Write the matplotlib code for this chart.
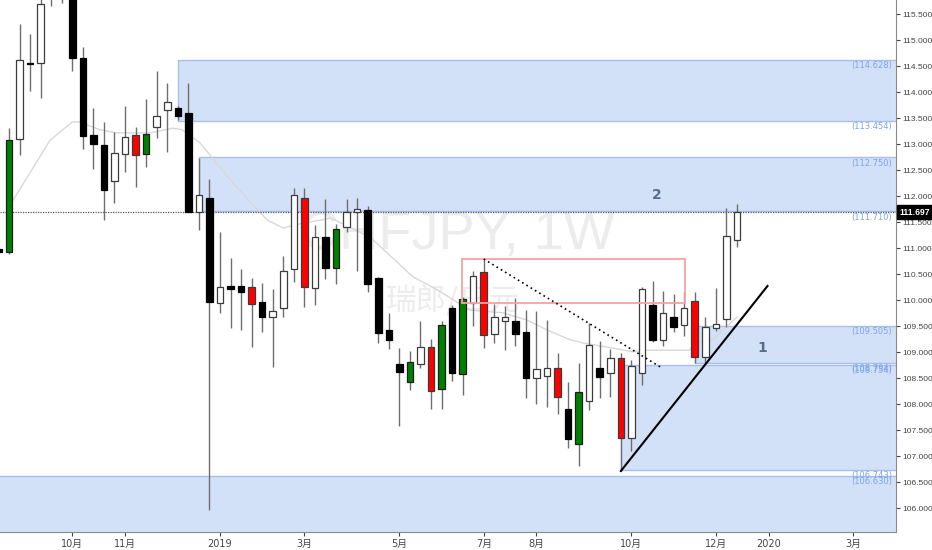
import numpy as np
import matplotlib.pyplot as plt
from matplotlib.patches import Rectangle
import matplotlib.transforms as mtransforms

plt.rcParams['font.family'] = ['DejaVu Sans', 'Noto Sans CJK SC']
axis_font = ['Liberation Sans', 'DejaVu Sans']

# weekly CHFJPY candles, index 0 = week of 2018-08-20
opens = [110.99, 110.93, 113.10, 114.56, 114.56, 115.90, 116.30, 116.10, 114.66, 113.18,
         112.99, 112.29, 112.81, 113.18, 112.81, 113.33, 113.66, 113.70, 113.60, 111.70,
         111.97, 109.95, 110.28, 110.28, 110.26, 109.97, 109.68, 109.85, 110.60, 111.97,
         110.24, 111.22, 110.62, 111.41, 111.70, 111.74, 110.43, 109.43, 108.78, 108.43,
         108.78, 109.10, 108.29, 109.85, 108.58, 109.95, 110.54, 109.35, 109.60, 109.60,
         109.39, 108.51, 108.54, 108.70, 107.91, 107.24, 108.06, 108.70, 108.60, 108.89,
         107.35, 108.60, 109.91, 109.24, 109.68, 109.53, 109.99, 108.91, 109.47, 109.64,
         111.16]
highs = [111.03, 113.31, 115.31, 115.12, 115.87, 116.60, 116.80, 116.30, 114.87, 113.70,
         113.43, 113.24, 113.74, 113.33, 113.87, 114.41, 114.18, 113.74, 114.18, 112.74,
         112.33, 111.31, 110.81, 110.60, 110.43, 110.33, 110.22, 110.85, 112.16, 112.16,
         111.45, 111.95, 111.47, 111.95, 111.97, 111.81, 110.44, 109.76, 109.08, 109.03,
         109.60, 109.26, 109.60, 109.91, 110.06, 110.56, 110.79, 109.93, 109.89, 110.04,
         109.81, 109.79, 109.62, 108.99, 108.43, 108.79, 109.56, 109.22, 109.06, 108.99,
         108.85, 110.25, 110.37, 110.18, 110.12, 110.16, 110.16, 109.68, 110.24, 111.78,
         111.85]
lows = [110.89, 110.89, 112.79, 114.03, 113.89, 115.66, 115.72, 114.41, 112.91, 112.53,
        111.54, 111.87, 112.47, 112.18, 112.56, 113.12, 112.85, 113.47, 111.69, 111.35,
        105.97, 109.76, 109.47, 109.43, 109.10, 109.39, 108.72, 109.68, 110.35, 109.87,
        109.91, 110.41, 110.31, 111.31, 110.56, 110.16, 109.18, 109.06, 107.58, 108.28,
        108.70, 107.91, 107.91, 108.45, 108.18, 109.51, 109.08, 109.18, 109.04, 109.12,
        108.12, 108.01, 107.95, 107.81, 107.16, 106.81, 107.89, 108.12, 108.14, 106.72,
        107.10, 108.37, 109.20, 109.12, 109.39, 109.31, 108.79, 108.79, 109.41, 109.49,
        111.03]
closes = [110.93, 113.08, 114.62, 114.54, 115.70, 116.30, 116.10, 114.66, 113.16, 113.01,
          112.12, 112.83, 113.14, 112.79, 113.20, 113.54, 113.81, 113.54, 111.70, 112.03,
          109.97, 110.26, 110.22, 110.16, 109.93, 109.68, 109.79, 110.56, 112.03, 110.26,
          111.22, 110.62, 111.37, 111.70, 111.76, 110.31, 109.37, 109.24, 108.62, 108.81,
          109.10, 108.26, 109.53, 108.60, 110.03, 110.47, 109.33, 109.68, 109.68, 109.35,
          108.51, 108.68, 108.70, 108.14, 107.33, 108.24, 109.14, 108.53, 108.89, 107.35,
          108.74, 110.22, 109.24, 109.76, 109.49, 109.85, 108.91, 109.49, 109.54, 111.24,
          111.70]
bar_idx = list(range(-1, 70))

red_bars = [12, 23, 28, 40, 45, 52, 58, 65]
green_bars = [0, 13, 31, 38, 41, 43, 54]

# moving average (bar index, price)
ma_idx = [0.4, 3.9, 6, 6.7, 8.6, 10.2, 13.4, 15.5, 16.4, 18.1, 21.2, 24.5, 26, 27.6, 30.5,
          34.2, 38.3, 40.6, 43.7, 46.8, 49.1, 51, 53.2, 54.4, 56.7, 59.1, 60.5, 64.5, 65.2,
          66.7, 69]
ma_val = [111.93, 113.08, 113.43, 113.43, 113.28, 113.22, 113.22, 113.31, 113.28, 113.03,
          112.26, 111.54, 111.39, 111.47, 111.58, 111.22, 110.45, 110.20, 109.81, 109.76,
          109.62, 109.43, 109.24, 109.18, 109.10, 109.01, 109.04, 109.04, 109.20, 109.24,
          109.68]

# supply / demand zones
zone_start = [16, 18, 65, 58, -3]
zone_top = [114.628, 112.750, 109.505, 108.754, 106.630]
zone_bot = [113.454, 111.710, 108.794, 106.743, 104.0]
zone_labels = [("(114.628)", "(113.454)"), ("(112.750)", "(111.710)"),
               ("(109.505)", "(108.794)"), ("(108.754)", "(106.743)"), ("(106.630)", None)]

last_price = 111.697

month_pos = [6, 11, 20, 28, 37, 45, 50, 59, 67, 72, 80]
month_lbl = ['10月', '11月', '2019', '3月', '5月', '7月', '8月', '10月', '12月', '2020', '3月']
price_ticks = np.arange(106.0, 115.51, 0.5)

fig = plt.figure(figsize=(9.32, 5.5), dpi=100)
ax = fig.add_axes([0, 18 / 550, 896 / 932, 532 / 550])
ax.set_xlim(-0.853, 84.08)
ax.set_ylim(105.544, 115.775)

zone_face = '#d3e1f8'
zone_edge = '#a6c0ee'
for x0, top, bot in zip(zone_start, zone_top, zone_bot):
    ax.add_patch(Rectangle((x0, bot), 100, top - bot, facecolor=zone_face,
                           edgecolor=zone_edge, lw=1, zorder=1))

lbl_x = (892 - 9) / 10.55
for top, bot, (lt, lb) in zip(zone_top, zone_bot, zone_labels):
    ax.annotate(lt, (lbl_x, top), xytext=(0, -1), textcoords='offset points',
                ha='right', va='top', fontsize=6, color='#7ea3e4', zorder=6)
    if lb:
        ax.annotate(lb, (lbl_x, bot), xytext=(0, -1), textcoords='offset points',
                    ha='right', va='top', fontsize=6, color='#7ea3e4', zorder=6)

# watermark
ax.text(0.51, 0.558, 'CHFJPY, 1W', transform=ax.transAxes, ha='center', va='center',
        fontsize=39, color='#ececec', family=['Liberation Sans'], zorder=0)
ax.text(0.505, 0.432, '瑞郎/日元', transform=ax.transAxes, ha='center', va='center',
        fontsize=22, color='#ececec', family=['Noto Sans CJK SC'], zorder=0)

ax.plot(ma_idx, ma_val, color='#d8d8d8', lw=1, zorder=2)

# candles
w = 0.62
for i, o, h, l, c in zip(bar_idx, opens, highs, lows, closes):
    ax.vlines(i, l, h, color='#6e6e6e', lw=1, zorder=3)
    if i in red_bars:
        fc, ec = '#ff0000', '#3a3a3a'
    elif i in green_bars:
        fc, ec = '#008000', '#1e1e1e'
    elif c >= o:
        fc, ec = 'white', '#3c3c3c'
    else:
        fc, ec = 'black', 'black'
    ax.bar(i, max(abs(c - o), 0.03), bottom=min(o, c), width=w, color=fc,
           edgecolor=ec, lw=0.9, zorder=4)

# last price line
ax.axhline(last_price, color='#555555', lw=0.9, ls=(0, (1, 1)), zorder=3)
trans = mtransforms.blended_transform_factory(ax.transAxes, ax.transData)
ax.text(1.004, last_price, '111.697', transform=trans, ha='left', va='center',
        fontsize=6.2, color='white', fontweight='bold', family=axis_font, zorder=10,
        clip_on=False, bbox=dict(boxstyle='square,pad=0.3', fc='black', ec='black'))

# red box and trend lines
ax.add_patch(Rectangle((42.9, 109.948), 64.1 - 42.9, 110.794 - 109.948, fill=False,
                       edgecolor='#f4a3a3', lw=1.3, zorder=5))
ax.plot([45, 61.9], [110.794, 108.698], color='black', lw=1.2, ls=(0, (1, 2)), zorder=5)
ax.plot([58, 71.9], [106.717, 110.275], color='black', lw=1.5, zorder=5)

ax.text(61.4, 112.03, '2', ha='center', va='center', fontsize=10, fontweight='bold',
        color='#5b6b8c', zorder=6)
ax.text(71.4, 109.08, '1', ha='center', va='center', fontsize=10, fontweight='bold',
        color='#5b6b8c', zorder=6)

# axes styling
for s in ['top', 'left']:
    ax.spines[s].set_visible(False)
ax.spines['right'].set_color('#8a8a8a')
ax.spines['bottom'].set_color('#8a8a8a')
ax.yaxis.tick_right()
ax.set_yticks(price_ticks)
ax.set_yticklabels(['%.3f' % p for p in price_ticks])
ax.set_xticks(month_pos)
ax.set_xticklabels(month_lbl)
ax.tick_params(axis='y', labelsize=6.0, colors='#444444', length=3, pad=1.5)
ax.tick_params(axis='x', labelsize=7, colors='#444444', length=3, pad=2)
for lbl in ax.get_yticklabels():
    lbl.set_family(axis_font)

fig.savefig('out.png', dpi=100)
